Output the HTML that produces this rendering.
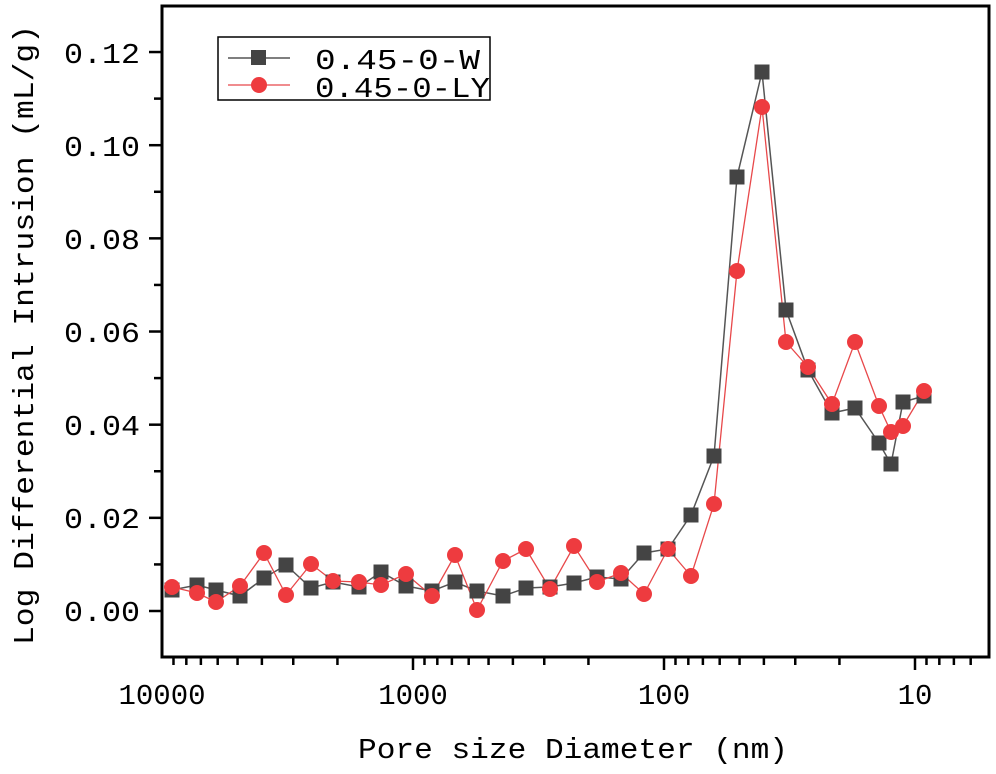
<!DOCTYPE html>
<html><head><style>body{margin:0;background:#fff}</style></head><body>
<svg width="996" height="769" xmlns="http://www.w3.org/2000/svg" font-family="'Liberation Mono','Noto Serif CJK SC',monospace">
<rect width="996" height="769" fill="#fff"/>
<g id="ticks" stroke="#000" stroke-width="2.5"></g>
<rect x="162" y="6" width="827" height="651" fill="none" stroke="#000" stroke-width="3"/>
<g font-size="29" fill="#000" text-anchor="end">
<text x="140" y="621" textLength="76" lengthAdjust="spacingAndGlyphs">0.00</text>
<text x="140" y="528" textLength="76" lengthAdjust="spacingAndGlyphs">0.02</text>
<text x="140" y="435" textLength="76" lengthAdjust="spacingAndGlyphs">0.04</text>
<text x="140" y="342" textLength="76" lengthAdjust="spacingAndGlyphs">0.06</text>
<text x="140" y="249" textLength="76" lengthAdjust="spacingAndGlyphs">0.08</text>
<text x="140" y="156" textLength="76" lengthAdjust="spacingAndGlyphs">0.10</text>
<text x="140" y="63" textLength="76" lengthAdjust="spacingAndGlyphs">0.12</text>
</g>
<g font-size="29" fill="#000" text-anchor="middle">
<text x="162" y="704">10000</text>
<text x="413" y="704">1000</text>
<text x="664" y="704">100</text>
<text x="915" y="704">10</text>
<text x="573" y="758" textLength="430" lengthAdjust="spacingAndGlyphs" text-anchor="middle">Pore size Diameter (nm)</text>
<text transform="translate(33,335) rotate(-90)" textLength="620" lengthAdjust="spacingAndGlyphs" text-anchor="middle">Log Differential Intrusion (mL/g)</text>
</g>
<polyline id="kl" fill="none" stroke="#555" stroke-width="1.5"/>
<polyline id="rl" fill="none" stroke="#e8484a" stroke-width="1.3"/>
<g id="km" fill="#444"></g>
<g id="rm" fill="#ee3b3f"></g>
<rect x="218" y="37" width="272" height="63" fill="#fff" stroke="#000" stroke-width="1.5"/>
<line x1="228" y1="58" x2="290" y2="58" stroke="#555" stroke-width="1.5"/>
<rect x="251" y="50" width="15" height="15" fill="#444"/>
<line x1="228" y1="85" x2="290" y2="85" stroke="#e8484a" stroke-width="1.3"/>
<circle cx="259" cy="85" r="8" fill="#ee3b3f"/>
<text x="315" y="69" font-size="29" textLength="165" lengthAdjust="spacingAndGlyphs">0.45-0-W</text>
<text x="315" y="97" font-size="29" textLength="175" lengthAdjust="spacingAndGlyphs">0.45-0-LY</text>
</svg>
<script>
var K=[[172,590],[197,585],[216,590],[240,596],[264,578],[286,565],[311,588],[333,582],[359,587],[381,572],[406,586],[432,591],[455,582],[477,591],[503,596],[526,588],[550,587],[574,583],[597,577],[621,579],[644,553],[668,549],[691,515],[714,456],[737,177],[762,72],[786,310],[808,370],[832,413],[855,408],[879,443],[891,464],[903,402],[924,396]];
var R=[[172,587],[197,593],[216,602],[240,586],[264,553],[286,595],[311,564],[333,581],[359,582],[381,585],[406,574],[432,596],[455,555],[477,610],[503,561],[526,549],[550,589],[574,546],[597,582],[621,573],[644,594],[668,549],[691,576],[714,504],[737,271],[762,107],[786,342],[808,367],[832,404],[855,342],[879,406],[891,432],[903,426],[924,391]];
var ns="http://www.w3.org/2000/svg";
document.getElementById('kl').setAttribute('points',K.map(p=>p.join(',')).join(' '));
document.getElementById('rl').setAttribute('points',R.map(p=>p.join(',')).join(' '));
var km=document.getElementById('km'),rm=document.getElementById('rm'),t=document.getElementById('ticks');
K.forEach(p=>{var r=document.createElementNS(ns,'rect');r.setAttribute('x',p[0]-7.5);r.setAttribute('y',p[1]-7.5);r.setAttribute('width',15);r.setAttribute('height',15);km.appendChild(r);});
R.forEach(p=>{var c=document.createElementNS(ns,'circle');c.setAttribute('cx',p[0]);c.setAttribute('cy',p[1]);c.setAttribute('r',8);rm.appendChild(c);});
function L(a,b,c,d){var l=document.createElementNS(ns,'line');l.setAttribute('x1',a);l.setAttribute('y1',b);l.setAttribute('x2',c);l.setAttribute('y2',d);t.appendChild(l);}
for(var n=0;n<4;n++)for(var k=1;k<10;k++){var d=k*Math.pow(10,n);var x=162+(4-Math.log10(d))*251;if(x<162||x>989)continue;L(x,657,x,657+(k==1?13:8));}
for(var v=-0.01;v<=0.13;v+=0.01){var y=611-v*4658;if(y<6||y>657)continue;var maj=Math.round(v*100)%2==0;L(162,y,162-(maj?13:8),y);}
</script>
</body></html>
